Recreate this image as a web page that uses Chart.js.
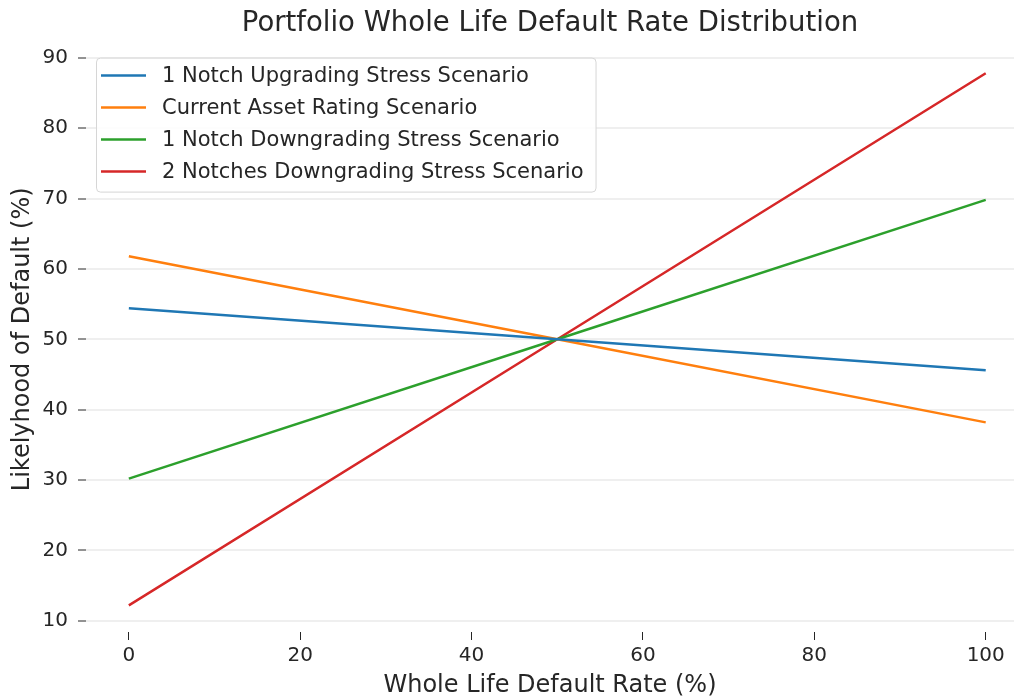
<!DOCTYPE html>
<html>
<head>
<meta charset="utf-8">
<title>Portfolio Whole Life Default Rate Distribution</title>
<script src="https://cdn.jsdelivr.net/npm/chart.js@4/dist/chart.umd.min.js"></script>
<style>
  html, body { margin: 0; padding: 0; background: #fff; overflow: hidden; }
  .wrap { width: 1014px; height: 698px; position: relative; }
</style>
</head>
<body>
<div class="wrap"><canvas id="chart"></canvas></div>
<script>
// whole life default rate (%)
const defaultRates = [0, 50, 100];

// likelihood of default (%) for each scenario
const upgrade1 = [54.4, 50, 45.6];
const current = [61.8, 50, 38.2];
const downgrade1 = [30.2, 50, 69.8];
const downgrade2 = [12.2, 50, 87.8];

const seriesNames = [
  "1 Notch Upgrading Stress Scenario",
  "Current Asset Rating Scenario",
  "1 Notch Downgrading Stress Scenario",
  "2 Notches Downgrading Stress Scenario"
];
const seriesColors = ["#1f77b4", "#ff7f0e", "#2ca02c", "#d62728"];

const xTicks = [0, 20, 40, 60, 80, 100];
const yTicks = [10, 20, 30, 40, 50, 60, 70, 80, 90];

const FONT = "'DejaVu Sans', sans-serif";
const INK = "#262626";

const toPoints = (ys) => ys.map((y, i) => ({ x: defaultRates[i], y }));

// matplotlib style legend box in the top left of the plot
const boxLegend = {
  id: "boxLegend",
  afterDraw(chart) {
    const { ctx, chartArea } = chart;
    const sets = chart.data.datasets;
    ctx.save();
    ctx.font = "21px " + FONT;
    let textW = 0;
    sets.forEach((ds) => { textW = Math.max(textW, ctx.measureText(ds.label).width); });
    const x0 = chartArea.left + 10;
    const y0 = chartArea.top + 11;
    const rowH = 32;
    const w = 5 + 45 + 16 + textW + 12;
    const h = rowH * sets.length + 6;

    ctx.beginPath();
    ctx.roundRect(x0 + 0.5, y0 + 0.5, w, h, 4);
    ctx.fillStyle = "rgba(255,255,255,0.85)";
    ctx.fill();
    ctx.strokeStyle = "#d6d6d6";
    ctx.lineWidth = 1;
    ctx.stroke();

    sets.forEach((ds, i) => {
      const cy = y0 + 18 + i * rowH;
      ctx.beginPath();
      ctx.moveTo(x0 + 5, cy);
      ctx.lineTo(x0 + 50, cy);
      ctx.strokeStyle = ds.borderColor;
      ctx.lineWidth = 2.5;
      ctx.stroke();
      ctx.fillStyle = INK;
      ctx.textBaseline = "middle";
      ctx.textAlign = "left";
      ctx.fillText(ds.label, x0 + 66, cy + 1);
    });
    ctx.restore();
  }
};

new Chart(document.getElementById("chart"), {
  type: "line",
  data: {
    datasets: [upgrade1, current, downgrade1, downgrade2].map((ys, i) => ({
      label: seriesNames[i],
      data: toPoints(ys),
      borderColor: seriesColors[i],
      backgroundColor: seriesColors[i],
      borderWidth: 2.5,
      pointRadius: 0,
      tension: 0
    }))
  },
  options: {
    responsive: true,
    maintainAspectRatio: false,
    animation: false,
    layout: { padding: { left: 0, right: 0, top: 0, bottom: 0 } },
    plugins: {
      legend: { display: false },
      tooltip: { enabled: false },
      title: {
        display: true,
        fullSize: false,
        text: "Portfolio Whole Life Default Rate Distribution",
        color: INK,
        font: { family: FONT, size: 27.5, weight: "normal" },
        padding: { top: 7, bottom: 6.6 }
      }
    },
    scales: {
      x: {
        type: "linear",
        min: -5,
        max: 103.3,
        afterBuildTicks: (scale) => { scale.ticks = xTicks.map((v) => ({ value: v })); },
        afterFit: (scale) => { scale.height = 66; },
        border: { display: false },
        grid: { drawOnChartArea: false, drawTicks: true, tickLength: 8, tickColor: INK, tickWidth: 1 },
        ticks: { color: INK, font: { family: FONT, size: 20 }, padding: 4, maxRotation: 0 },
        title: {
          display: true,
          text: "Whole Life Default Rate (%)",
          color: INK,
          font: { family: FONT, size: 24, lineHeight: 1 },
          padding: { top: 0, bottom: 0 }
        }
      },
      y: {
        min: 8.42,
        max: 91.58,
        afterBuildTicks: (scale) => { scale.ticks = yTicks.map((v) => ({ value: v })); },
        afterFit: (scale) => { scale.width = 86; },
        border: { display: false },
        grid: { color: "#efefef", lineWidth: 2, drawTicks: true, tickLength: 8, tickColor: INK, tickWidth: 1 },
        ticks: { color: INK, font: { family: FONT, size: 20 }, padding: 10 },
        title: {
          display: true,
          text: "Likelyhood of Default (%)",
          color: INK,
          font: { family: FONT, size: 24 },
          padding: { top: 8, bottom: 0 }
        }
      }
    }
  },
  plugins: [boxLegend]
});
</script>
</body>
</html>
